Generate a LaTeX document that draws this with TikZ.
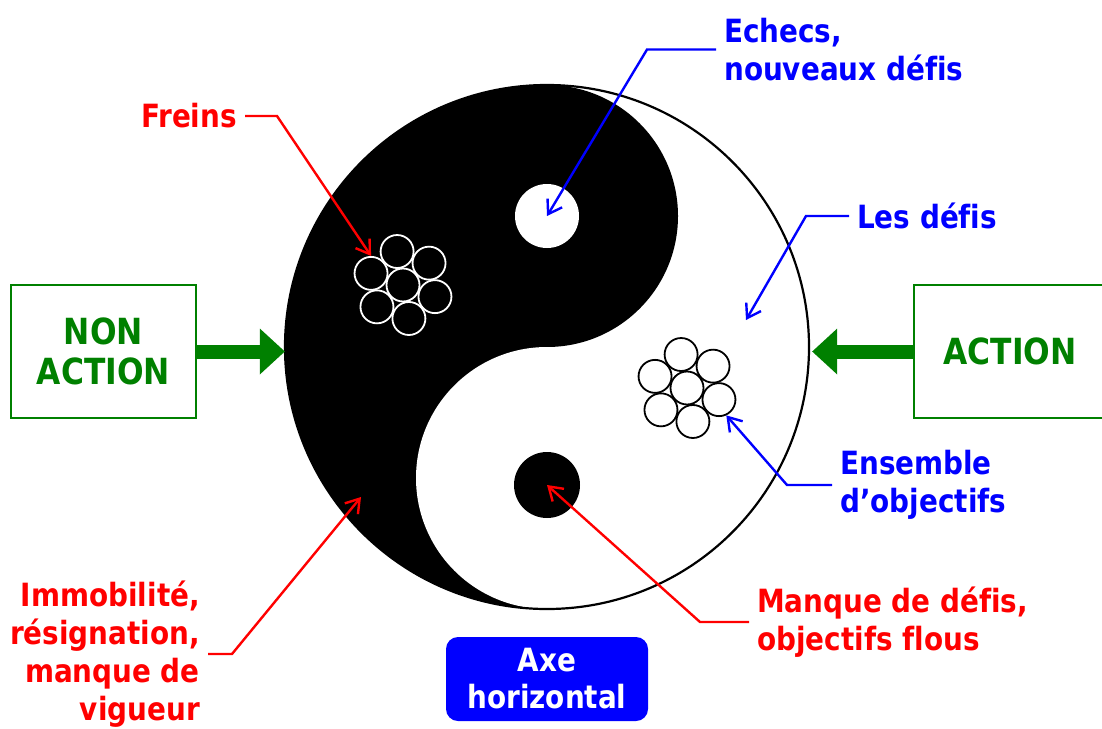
\documentclass[tikz,border=0pt]{standalone}
\usepackage{fontspec}
\setmainfont{DejaVu Sans}[FakeStretch=0.87, Ligatures=NoCommon]
\usetikzlibrary{arrows.meta,calc}
\definecolor{gr}{RGB}{0,128,0}
\definecolor{rd}{RGB}{255,0,0}
\definecolor{bl}{RGB}{0,0,255}
\begin{document}
\begin{tikzpicture}[x=1pt,y=-1pt,
  lbl/.style={font=\bfseries\fontsize{32}{38}\selectfont, inner xsep=8pt, inner ysep=0pt},
  redlbl/.style={lbl, text=rd},
  bluelbl/.style={lbl, text=bl},
  conn/.style={line width=2.4pt, -{Straight Barb[length=13pt,width=17pt,line width=2.4pt]}},
  redconn/.style={conn, draw=rd},
  blueconn/.style={conn, draw=bl},
  gbox/.style={draw=gr, line width=2pt, text=gr, align=center, minimum height=133pt,
    font=\bfseries\fontsize{36}{40}\selectfont, inner sep=0pt},
  garrow/.style={draw=gr, line width=14pt, -{Triangle[length=25pt,width=46pt,line width=0pt]}},
  clw/.style={circle, draw=white, line width=1.8pt, minimum size=33pt, inner sep=0pt},
  clb/.style={circle, draw=black, line width=1.8pt, minimum size=33pt, inner sep=0pt},
]
\useasboundingbox (0,0) rectangle (1102,728);
\clip (0,0) rectangle (1102,728);
\fill[white] (0,0) rectangle (1102,728);

% yin-yang
\node[circle, minimum size=524pt, inner sep=0pt] (yy) at (547,347) {};
\fill[white] (yy.center) circle[radius=262pt];
\begin{scope}
  \clip (280,80) rectangle (547,615);
  \fill[black] (yy.center) circle[radius=262pt];
\end{scope}
\fill[black] (547,216) circle[radius=131pt];
\fill[white] (547,478) circle[radius=131pt];
\draw[line width=2.2pt] (yy.center) circle[radius=262pt];
\node[circle, fill=white, minimum size=64pt, inner sep=0pt] (wdot) at (547,216) {};
\node[circle, fill=black, minimum size=66pt, inner sep=0pt] (bdot) at (547,485) {};

% clusters
\node[clw] (l0) at (403,285) {};
\foreach \a in {20,80,140,200,260,320} {
  \node[clw] (l\a) at ($(403,285)+(\a:34)$) {};
}
\node[clb] (r0) at (687,388) {};
\foreach \a in {20,80,140,200,260,320} {
  \node[clb] (r\a) at ($(687,388)+(\a:34)$) {};
}

% boxes
\node[gbox, minimum width=185pt] (nonaction) at (103.5,351.5) {NON\\ACTION};
\node[gbox, minimum width=192pt] (action) at (1010,351.5) {ACTION};
\draw[garrow] (nonaction.east) -- (nonaction.east -| yy.west);
\draw[garrow] (action.west) -- ($(action.west -| yy.east)+(3,0)$);

\node[fill=bl, rounded corners=12pt, minimum width=202pt, minimum height=84pt, text=white,
  align=center, inner sep=0pt, font=\bfseries\fontsize{32}{37}\selectfont] (axe) at (547,679) {Axe\\horizontal};

% labels
\node[redlbl, anchor=east] (freins) at (245,116) {Freins};
\node[bluelbl, anchor=west, align=left] (echecs) at (716,49.5) {Echecs,\\nouveaux défis};
\node[bluelbl, anchor=west] (lesdefis) at (849,216) {Les défis};
\node[bluelbl, anchor=west, align=left] (ensemble) at (832,485) {Ensemble\\d’objectifs};
\node[redlbl, anchor=west, align=left] (manque) at (749,622) {Manque de défis,\\objectifs flous};
\node[redlbl, anchor=east, align=right] (immob) at (208,654) {Immobilité,\\résignation,\\manque de\\vigueur};

\coordinate (tipdefis) at (746,320);
\coordinate (tipimmob) at (361,497);

\draw[redconn] (freins.east) -- ++(32,0) -- (l200.north);
\draw[blueconn] (echecs.west) -- ++(-69,0) -- (wdot.center);
\draw[blueconn] (lesdefis.west) -- ++(-43,0) -- (tipdefis);
\draw[blueconn] (ensemble.west) -- ++(-45,0) -- (r20.-65);
\draw[redconn] (manque.west) -- ++(-49,0) -- (bdot.center);
\draw[redconn] (immob.east) -- ++(24,0) -- (tipimmob);
\end{tikzpicture}
\end{document}
